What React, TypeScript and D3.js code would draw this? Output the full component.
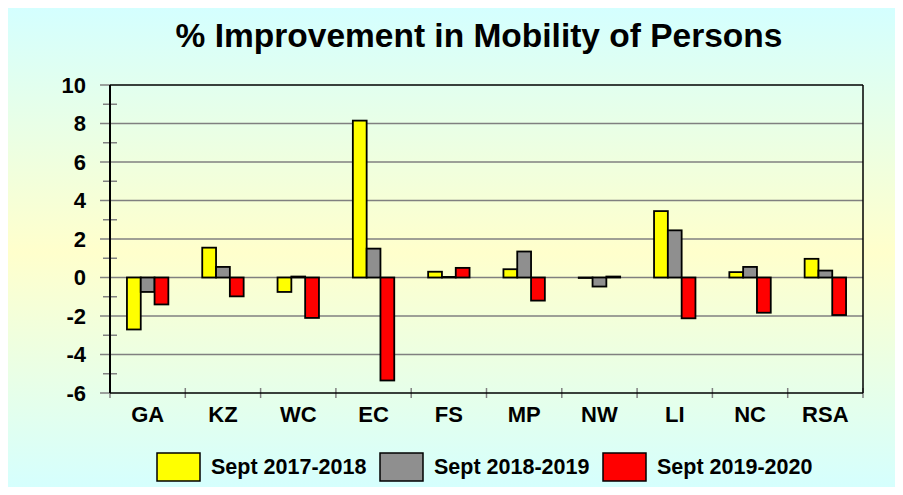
import React from 'react';
import * as d3 from 'd3';

const categories = ['GA', 'KZ', 'WC', 'EC', 'FS', 'MP', 'NW', 'LI', 'NC', 'RSA'];
const seriesNames = ['Sept 2017-2018', 'Sept 2018-2019', 'Sept 2019-2020'];
const seriesColors = ['#ffff00', '#8f8f8f', '#ff0000'];
const values2017 = [-2.7, 1.55, -0.75, 8.15, 0.3, 0.43, -0.02, 3.45, 0.28, 0.97];
const values2018 = [-0.75, 0.55, 0.05, 1.5, 0.03, 1.35, -0.47, 2.45, 0.55, 0.36];
const values2019 = [-1.4, -0.98, -2.1, -5.35, 0.5, -1.2, 0.05, -2.12, -1.83, -1.95];
const yTicks = [10, 8, 6, 4, 2, 0, -2, -4, -6];
const yMinorTicks = [9, 7, 5, 3, 1, -1, -3, -5];

const W = 903;
const H = 495;
const FONT = '"Liberation Sans", Arial, sans-serif';

export default function App() {
  const margin = { left: 110, right: 863, top: 85, bottom: 393 };
  const allSeries = [values2017, values2018, values2019];

  const x = d3.scaleBand<string>()
    .domain(categories)
    .range([margin.left, margin.right])
    .paddingInner(0.45)
    .paddingOuter(0.225);

  const xInner = d3.scaleBand<number>()
    .domain([0, 1, 2])
    .range([0, x.bandwidth()]);

  const y = d3.scaleLinear().domain([-6, 10]).range([margin.bottom, margin.top]);

  const step = x.step();
  const catEdges = d3.range(categories.length + 1).map(i => margin.left + i * step);

  return (
    <div style={{ margin: -8, width: W, height: H, overflow: 'hidden' }}>
      <svg width={W} height={H} style={{ display: 'block' }}>
        <defs>
          <linearGradient id="bg" x1="0" y1="8" x2="0" y2="495" gradientUnits="userSpaceOnUse">
            <stop offset="0" stopColor="#d4ffff" />
            <stop offset="0.5" stopColor="#ffffcc" />
            <stop offset="1" stopColor="#d4ffff" />
          </linearGradient>
        </defs>
        <rect x={0} y={0} width={W} height={H} fill="#ffffff" />
        <rect x={7} y={8} width={W - 7} height={H - 8} fill="url(#bg)" />

        <text x={479} y={47} textAnchor="middle" fontFamily={FONT} fontWeight="bold"
          fontSize={33.5} fill="#000">% Improvement in Mobility of Persons</text>

        {/* gridlines */}
        {yTicks.filter(t => t !== 10 && t !== -6).map(t => (
          <line key={'g' + t} x1={margin.left} x2={margin.right} y1={y(t)} y2={y(t)}
            stroke="#808080" strokeWidth={1.5} />
        ))}
        {/* major ticks */}
        {yTicks.map(t => (
          <line key={'mt' + t} x1={margin.left - 10} x2={margin.left} y1={y(t)} y2={y(t)}
            stroke="#808080" strokeWidth={1.5} />
        ))}
        {yMinorTicks.map(t => (
          <line key={'mn' + t} x1={margin.left - 7} x2={margin.left + 7} y1={y(t)} y2={y(t)}
            stroke="#808080" strokeWidth={1.5} />
        ))}
        {/* category ticks */}
        {catEdges.map((cx, i) => (
          <line key={'ct' + i} x1={cx} x2={cx} y1={margin.bottom - 5} y2={margin.bottom + 5}
            stroke="#808080" strokeWidth={1.5} />
        ))}

        {/* plot frame */}
        <line x1={margin.left} x2={margin.right} y1={margin.top} y2={margin.top} stroke="#000" strokeWidth={1.5} />
        <line x1={margin.right} x2={margin.right} y1={margin.top} y2={margin.bottom} stroke="#000" strokeWidth={1.5} />
        <line x1={margin.left} x2={margin.right} y1={margin.bottom} y2={margin.bottom} stroke="#000" strokeWidth={1.5} />
        <line x1={margin.left} x2={margin.left} y1={margin.top} y2={margin.bottom} stroke="#000" strokeWidth={2} />

        {/* bars */}
        {categories.map((c, ci) => (
          <g key={c} transform={`translate(${x(c)},0)`}>
            {allSeries.map((vals, si) => {
              const v = vals[ci];
              const y0 = y(0);
              const y1 = y(v);
              return (
                <rect key={si} x={xInner(si)} width={xInner.bandwidth()}
                  y={Math.min(y0, y1)} height={Math.max(Math.abs(y1 - y0), 0.5)}
                  fill={seriesColors[si]} stroke="#000" strokeWidth={1.8} />
              );
            })}
          </g>
        ))}

        {/* y labels */}
        {yTicks.map(t => (
          <text key={'yl' + t} x={86} y={y(t)} dy="0.36em" textAnchor="end" fontFamily={FONT}
            fontWeight="bold" fontSize={22} fill="#000">{t}</text>
        ))}
        {/* x labels */}
        {categories.map(c => (
          <text key={'xl' + c} x={(x(c) ?? 0) + x.bandwidth() / 2} y={422} textAnchor="middle"
            fontFamily={FONT} fontWeight="bold" fontSize={22} fill="#000">{c}</text>
        ))}

        {/* legend */}
        {seriesNames.map((name, i) => {
          const lx = 157 + i * 223;
          return (
            <g key={name}>
              <rect x={lx} y={453} width={43} height={28} fill={seriesColors[i]} stroke="#000" strokeWidth={1.5} />
              <text x={lx + 54} y={474} fontFamily={FONT} fontWeight="bold" fontSize={21.5} fill="#000">{name}</text>
            </g>
          );
        })}
      </svg>
    </div>
  );
}
